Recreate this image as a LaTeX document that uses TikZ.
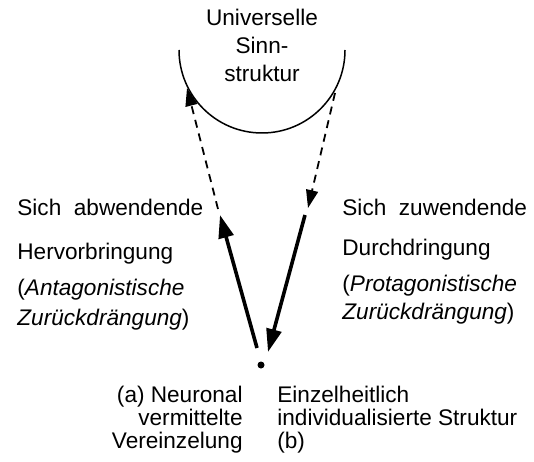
\documentclass[tikz,border=0pt]{standalone}
\usepackage{fontspec}
\setmainfont{Liberation Sans}
\usepackage{tikz}
\usetikzlibrary{
	arrows.meta,
	calc,
}

\begin{document}
\begin{tikzpicture}[x=0.5pt, y=0.5pt,
		txt/.style={inner sep=0pt, font=\fontsize{11.3}{11.5}\selectfont},
		pfeil/.style={line width=1.8pt, -{Triangle[length=11.5pt, width=7.5pt]}},
		strich/.style={line width=0.9pt, dash pattern=on 4pt off 3pt, -{Triangle[length=9pt, width=6pt]}},
	]
	\useasboundingbox (0,0) rectangle (534,461);
	\coordinate (L) at (179,411);
	\coordinate (A) at (218,252);
	\coordinate (B) at (187,373);
	\coordinate (C) at (257,113);
	\coordinate (D) at (220,246);
	\coordinate (E) at (335,368);
	\coordinate (F) at (308,253);
	\coordinate (G) at (305,246);
	\coordinate (H) at (268,109);
	\draw[line width=0.75pt] (L) arc[start angle=180, end angle=360, radius=83];
	\node[circle, fill, inner sep=0pt, minimum size=3.5pt] (ind) at (261,96) {};
	\draw[strich] (A) -- (B);
	\draw[pfeil] (C) -- (D);
	\draw[strich] (E) -- (F);
	\draw[pfeil] (G) -- (H);
	% base = baseline of the last line
	\node[txt, align=center, anchor=base, font=\fontsize{11.3}{14}\selectfont] (sinn) at (262,379) {Universelle\\Sinn-\\struktur};
	\node[txt, align=left, anchor=base west, font=\fontsize{11.3}{15}\selectfont] (hervor) at (17,136)
		{Sich~~abwendende\\[7pt]Hervorbringung\\[3pt](\textit{Antagonistische}\\\textit{Zurückdrängung})};
	\node[txt, align=left, anchor=base west, font=\fontsize{11.3}{14}\selectfont] (durch) at (342,142)
		{Sich~~zuwendende\\[6pt]Durchdringung\\[4pt](\textit{Protagonistische}\\\textit{Zurückdrängung})};
	\node[txt, align=right, anchor=base east] (vereinz) at (243,13) {(a) Neuronal\\vermittelte\\Vereinzelung};
	\node[txt, align=left, anchor=base west] (einzel) at (277,13) {Einzelheitlich\\individualisierte Struktur\\(b)};
\end{tikzpicture}
\end{document}
